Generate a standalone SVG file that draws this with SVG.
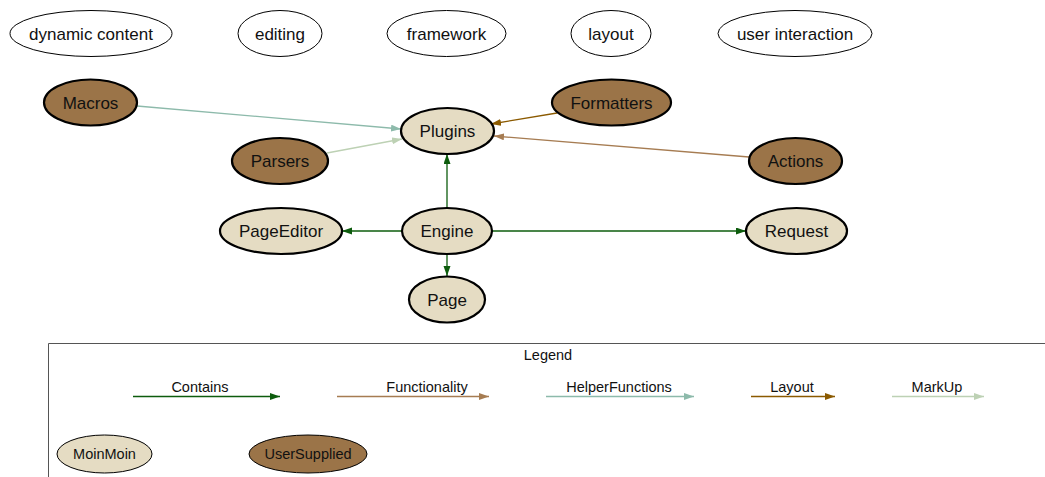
<svg xmlns="http://www.w3.org/2000/svg" width="1045" height="477" viewBox="0 0 1045 477">
<style>
text{font-family:"Liberation Sans",Arial,sans-serif;fill:#111;text-anchor:middle}
.t{font-size:17px}
.s{font-size:14.5px}
.topic{fill:#fff;stroke:#000;stroke-width:1}
.moin{fill:#e5dcc3;stroke:#000;stroke-width:2.2}
.user{fill:#9b7448;stroke:#000;stroke-width:2.2}
.lmoin{fill:#e5dcc3;stroke:#000;stroke-width:1}
.luser{fill:#9b7448;stroke:#000;stroke-width:1}
.e{fill:none;stroke-width:1.3}
.contains{stroke:#0d5c0d}
.func{stroke:#a67c52}
.helper{stroke:#8dbaab}
.layout{stroke:#8b5a00}
.markup{stroke:#bdd1b4}
</style>
<defs>
<marker id="aC" markerUnits="userSpaceOnUse" markerWidth="11" markerHeight="8" refX="10" refY="3.5" orient="auto"><path d="M0,0 L10,3.5 L0,7z" fill="#0d5c0d"/></marker>
<marker id="aF" markerUnits="userSpaceOnUse" markerWidth="11" markerHeight="8" refX="10" refY="3.5" orient="auto"><path d="M0,0 L10,3.5 L0,7z" fill="#a67c52"/></marker>
<marker id="aH" markerUnits="userSpaceOnUse" markerWidth="11" markerHeight="8" refX="10" refY="3.5" orient="auto"><path d="M0,0 L10,3.5 L0,7z" fill="#8dbaab"/></marker>
<marker id="aL" markerUnits="userSpaceOnUse" markerWidth="11" markerHeight="8" refX="10" refY="3.5" orient="auto"><path d="M0,0 L10,3.5 L0,7z" fill="#8b5a00"/></marker>
<marker id="aM" markerUnits="userSpaceOnUse" markerWidth="11" markerHeight="8" refX="10" refY="3.5" orient="auto"><path d="M0,0 L10,3.5 L0,7z" fill="#bdd1b4"/></marker>
</defs>
<rect width="1045" height="477" fill="#fff"/>

<g id="connectors">
<line class="e helper" x1="137" y1="106" x2="401" y2="129" marker-end="url(#aH)"/>
<line class="e markup" x1="327" y1="153" x2="402" y2="139" marker-end="url(#aM)"/>
<line class="e layout" x1="557" y1="113" x2="491" y2="124" marker-end="url(#aL)"/>
<line class="e func" x1="749" y1="157" x2="494" y2="136" marker-end="url(#aF)"/>
<line class="e contains" x1="447" y1="208" x2="447" y2="154" marker-end="url(#aC)"/>
<line class="e contains" x1="402" y1="231" x2="342" y2="231" marker-end="url(#aC)"/>
<line class="e contains" x1="492" y1="231" x2="746" y2="231" marker-end="url(#aC)"/>
<line class="e contains" x1="447" y1="254" x2="447" y2="276" marker-end="url(#aC)"/>
</g>

<g id="n-dynamic-content"><ellipse class="topic" cx="91" cy="33.5" rx="81" ry="23"/><text class="t" x="91" y="39.5">dynamic content</text></g>
<g id="n-editing"><ellipse class="topic" cx="280" cy="33.5" rx="42" ry="23"/><text class="t" x="280" y="39.5">editing</text></g>
<g id="n-framework"><ellipse class="topic" cx="446.5" cy="33.5" rx="59.5" ry="23"/><text class="t" x="446.5" y="39.5">framework</text></g>
<g id="n-layout"><ellipse class="topic" cx="611" cy="33.5" rx="40" ry="23"/><text class="t" x="611" y="39.5">layout</text></g>
<g id="n-user-interaction"><ellipse class="topic" cx="795" cy="33.5" rx="77" ry="23"/><text class="t" x="795" y="39.5">user interaction</text></g>

<g id="n-macros"><ellipse class="user" cx="90.5" cy="102.5" rx="46.5" ry="23"/><text class="t" x="90.5" y="108.5">Macros</text></g>
<g id="n-formatters"><ellipse class="user" cx="611.5" cy="102.5" rx="59.5" ry="23"/><text class="t" x="611.5" y="108.5">Formatters</text></g>
<g id="n-plugins"><ellipse class="moin" cx="447.5" cy="131" rx="46.5" ry="23"/><text class="t" x="447.5" y="137">Plugins</text></g>
<g id="n-parsers"><ellipse class="user" cx="280" cy="161" rx="48" ry="23"/><text class="t" x="280" y="167">Parsers</text></g>
<g id="n-actions"><ellipse class="user" cx="795.5" cy="161" rx="46.5" ry="23"/><text class="t" x="795.5" y="167">Actions</text></g>
<g id="n-pageeditor"><ellipse class="moin" cx="281" cy="231" rx="61" ry="23"/><text class="t" x="281" y="237">PageEditor</text></g>
<g id="n-engine"><ellipse class="moin" cx="447" cy="231" rx="45" ry="23"/><text class="t" x="447" y="237">Engine</text></g>
<g id="n-request"><ellipse class="moin" cx="796.5" cy="231" rx="50.5" ry="23"/><text class="t" x="796.5" y="237">Request</text></g>
<g id="n-page"><ellipse class="moin" cx="447" cy="299.5" rx="38" ry="23"/><text class="t" x="447" y="305.5">Page</text></g>

<g id="legend">
<path d="M48.5,477 V343.5 H1045" fill="none" stroke="#555" stroke-width="1"/>
<text class="s" x="548" y="360">Legend</text>
<line class="e contains" x1="133" y1="396.5" x2="280" y2="396.5" marker-end="url(#aC)"/>
<text class="s" x="200" y="392">Contains</text>
<line class="e func" x1="337" y1="396.5" x2="489" y2="396.5" marker-end="url(#aF)"/>
<text class="s" x="427" y="392">Functionality</text>
<line class="e helper" x1="546" y1="396.5" x2="694" y2="396.5" marker-end="url(#aH)"/>
<text class="s" x="619" y="392">HelperFunctions</text>
<line class="e layout" x1="751" y1="396.5" x2="835" y2="396.5" marker-end="url(#aL)"/>
<text class="s" x="792" y="392">Layout</text>
<line class="e markup" x1="892" y1="396.5" x2="984" y2="396.5" marker-end="url(#aM)"/>
<text class="s" x="937" y="392">MarkUp</text>
<g id="n-legend-moinmoin"><ellipse class="lmoin" cx="104.5" cy="454" rx="47.5" ry="19"/><text class="s" x="104.5" y="459">MoinMoin</text></g>
<g id="n-legend-usersupplied"><ellipse class="luser" cx="308" cy="454" rx="59" ry="19"/><text class="s" x="308" y="459">UserSupplied</text></g>
</g>
</svg>
